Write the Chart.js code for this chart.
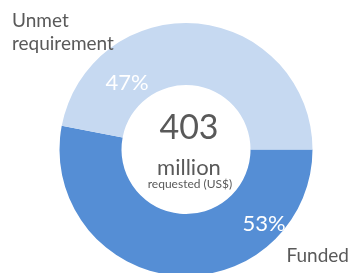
<!DOCTYPE html>
<html lang="en">
<head>
    <meta charset="UTF-8">
    <title>Funding requirement</title>
    <script src="https://cdn.jsdelivr.net/npm/chart.js"></script>
    <style>
        * { box-sizing: border-box; margin: 0; padding: 0; }
        html, body {
            width: 350px;
            height: 273px;
            overflow: hidden;
            background: #FFFFFF;
        }
        .chart-box {
            position: relative;
            width: 350px;
            height: 276px;
        }
    </style>
</head>
<body>
    <div class="chart-box">
        <canvas id="fundingChart"></canvas>
    </div>

    <script>
        // chart data
        const categories = ['Funded', 'Unmet requirement'];
        const shares = [53, 47];
        const totalRequested = 403;
        const sliceColors = ['#558ED5', '#C6D9F1'];

        const textGrey = '#595959';
        const fontFamily = 'Lato, "Open Sans", sans-serif';

        // text drawn on top of the doughnut: centre totals, % labels, category names
        const labelPlugin = {
            id: 'labels',
            afterDraw(chart) {
                const ctx = chart.ctx;
                const arc = chart.getDatasetMeta(0).data[0];
                const cx = arc.x, cy = arc.y;
                ctx.save();
                ctx.textBaseline = 'alphabetic';

                // centre
                ctx.fillStyle = textGrey;
                ctx.textAlign = 'center';
                ctx.font = '34px ' + fontFamily;
                ctx.fillText(String(totalRequested), cx + 3, cy - 11);
                ctx.font = '22px ' + fontFamily;
                ctx.fillText('million', cx + 3, cy + 25);
                ctx.font = '12px ' + fontFamily;
                ctx.fillText('requested (US$)', cx + 4, cy + 38);

                // percentages
                ctx.fillStyle = '#FFFFFF';
                ctx.font = '22px ' + fontFamily;
                ctx.fillText(shares[1] + '%', 127, 90);
                ctx.fillText(shares[0] + '%', 264, 231);

                // category names
                ctx.fillStyle = textGrey;
                ctx.font = '19px ' + fontFamily;
                ctx.textAlign = 'left';
                ctx.fillText('Unmet', 12, 27);
                ctx.fillText('requirement', 12, 50);
                ctx.textAlign = 'right';
                ctx.fillText(categories[0], 349, 262);
                ctx.restore();
            }
        };

        new Chart(document.getElementById('fundingChart'), {
            type: 'doughnut',
            data: {
                labels: categories,
                datasets: [{
                    data: shares,
                    backgroundColor: sliceColors,
                    borderWidth: 0
                }]
            },
            options: {
                responsive: true,
                maintainAspectRatio: false,
                animation: false,
                rotation: 90,
                cutout: '51%',
                layout: {
                    padding: { left: 22, right: 0, top: 23, bottom: 0 }
                },
                plugins: {
                    legend: { display: false },
                    tooltip: { enabled: false }
                }
            },
            plugins: [labelPlugin]
        });
    </script>
</body>
</html>
